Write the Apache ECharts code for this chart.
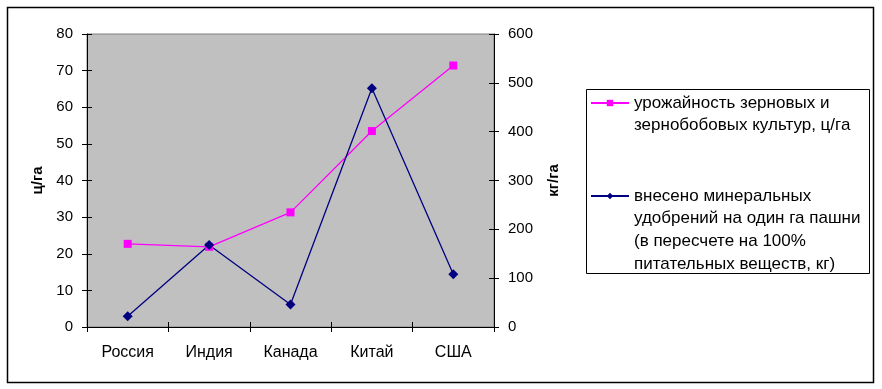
<!DOCTYPE html>
<html><head><meta charset="utf-8">
<script src="https://cdn.jsdelivr.net/npm/echarts@6/dist/echarts.min.js"></script>
<style>html,body{margin:0;padding:0;background:#fff}#c{width:882px;height:389px}</style>
</head><body><div id="c"></div>
<script>
var categories = ['Россия', 'Индия', 'Канада', 'Китай', 'США'];
var yieldLines = ['урожайность зерновых и', 'зернобобовых культур, ц/га'];
var yieldValues = [22.7, 21.9, 31.3, 53.5, 71.4];
var fertLines = ['внесено минеральных', 'удобрений на один га пашни', '(в пересчете на 100%', 'питательных веществ, кг)'];
var fertValues = [22, 168, 46, 489, 108];
var leftTicks = [0, 80, 10];
var rightTicks = [0, 600, 100];

var yieldName = yieldLines.join('\n');
var fertName = fertLines.join('\n');
var F = 'Liberation Sans, Arial, sans-serif';
var L = 22.7;
function padded(lines) {
  var pre = [];
  for (var i = 0; i < lines.length - 1; i++) pre.push(' ');
  return pre.concat(lines).join('\n');
}
var chart = echarts.init(document.getElementById('c'), null, {renderer: 'canvas'});
var grid = {left: 87, top: 34, width: 407, height: 293, show: true, backgroundColor: '#C0C0C0', borderColor: '#808080', borderWidth: 1};
function yAx(pos, t, name, shown) {
  return {
    type: 'value', position: pos, min: t[0], max: t[1], interval: t[2],
    name: shown ? name : '', nameLocation: 'middle', nameRotate: 90,
    nameGap: pos === 'left' ? 42 : 52,
    nameTextStyle: {fontFamily: F, fontSize: 15, fontWeight: 'bold', color: '#000'},
    axisLine: {show: shown, lineStyle: {color: '#000', width: 1}},
    axisTick: {show: true, inside: !shown, length: 5, lineStyle: {color: '#000'}},
    axisLabel: {show: shown, margin: 14, fontFamily: F, fontSize: 15, color: '#000'},
    splitLine: {show: false}
  };
}
function legendOf(name, lines, iconY) {
  return {
    data: [name], left: 590, top: iconY - (lines.length - 0.5) * L, padding: 0,
    itemWidth: 38, itemHeight: 8, selectedMode: false,
    formatter: function () { return padded(lines); },
    textStyle: {fontFamily: F, fontSize: 17, color: '#000', lineHeight: L}
  };
}
chart.setOption({
  animation: false,
  grid: grid,
  xAxis: [{
    type: 'category', data: categories, boundaryGap: true,
    axisLine: {lineStyle: {color: '#000'}},
    axisTick: {show: true, length: 5, lineStyle: {color: '#000'}},
    axisLabel: {margin: 18, fontFamily: F, fontSize: 16, color: '#000'}
  }, {
    type: 'category', data: categories, boundaryGap: true, position: 'bottom',
    axisLine: {show: false},
    axisTick: {show: true, inside: true, length: 5, lineStyle: {color: '#000'}},
    axisLabel: {show: false}
  }],
  yAxis: [yAx('left', leftTicks, 'ц/га', true), yAx('right', rightTicks, 'кг/га', true),
          yAx('left', leftTicks, '', false), yAx('right', rightTicks, '', false)],
  legend: [legendOf(yieldName, yieldLines, 103), legendOf(fertName, fertLines, 196)],
  graphic: [
    {type: 'rect', shape: {x: 7.5, y: 7.5, width: 866, height: 375}, style: {fill: null, stroke: '#000', lineWidth: 1.5}, z: -1},
    {type: 'rect', shape: {x: 586.5, y: 89.5, width: 283, height: 184}, style: {fill: '#fff', stroke: '#000', lineWidth: 1}, z: -1}
  ],
  series: [{
    name: yieldName, type: 'line', data: yieldValues, yAxisIndex: 0,
    symbol: 'rect', symbolSize: 8,
    lineStyle: {color: '#FF00FF', width: 1.3}, itemStyle: {color: '#FF00FF'}
  }, {
    name: fertName, type: 'line', data: fertValues, yAxisIndex: 1,
    symbol: 'diamond', symbolSize: 10,
    lineStyle: {color: '#000080', width: 1.3}, itemStyle: {color: '#000080'}
  }]
});
</script></body></html>
